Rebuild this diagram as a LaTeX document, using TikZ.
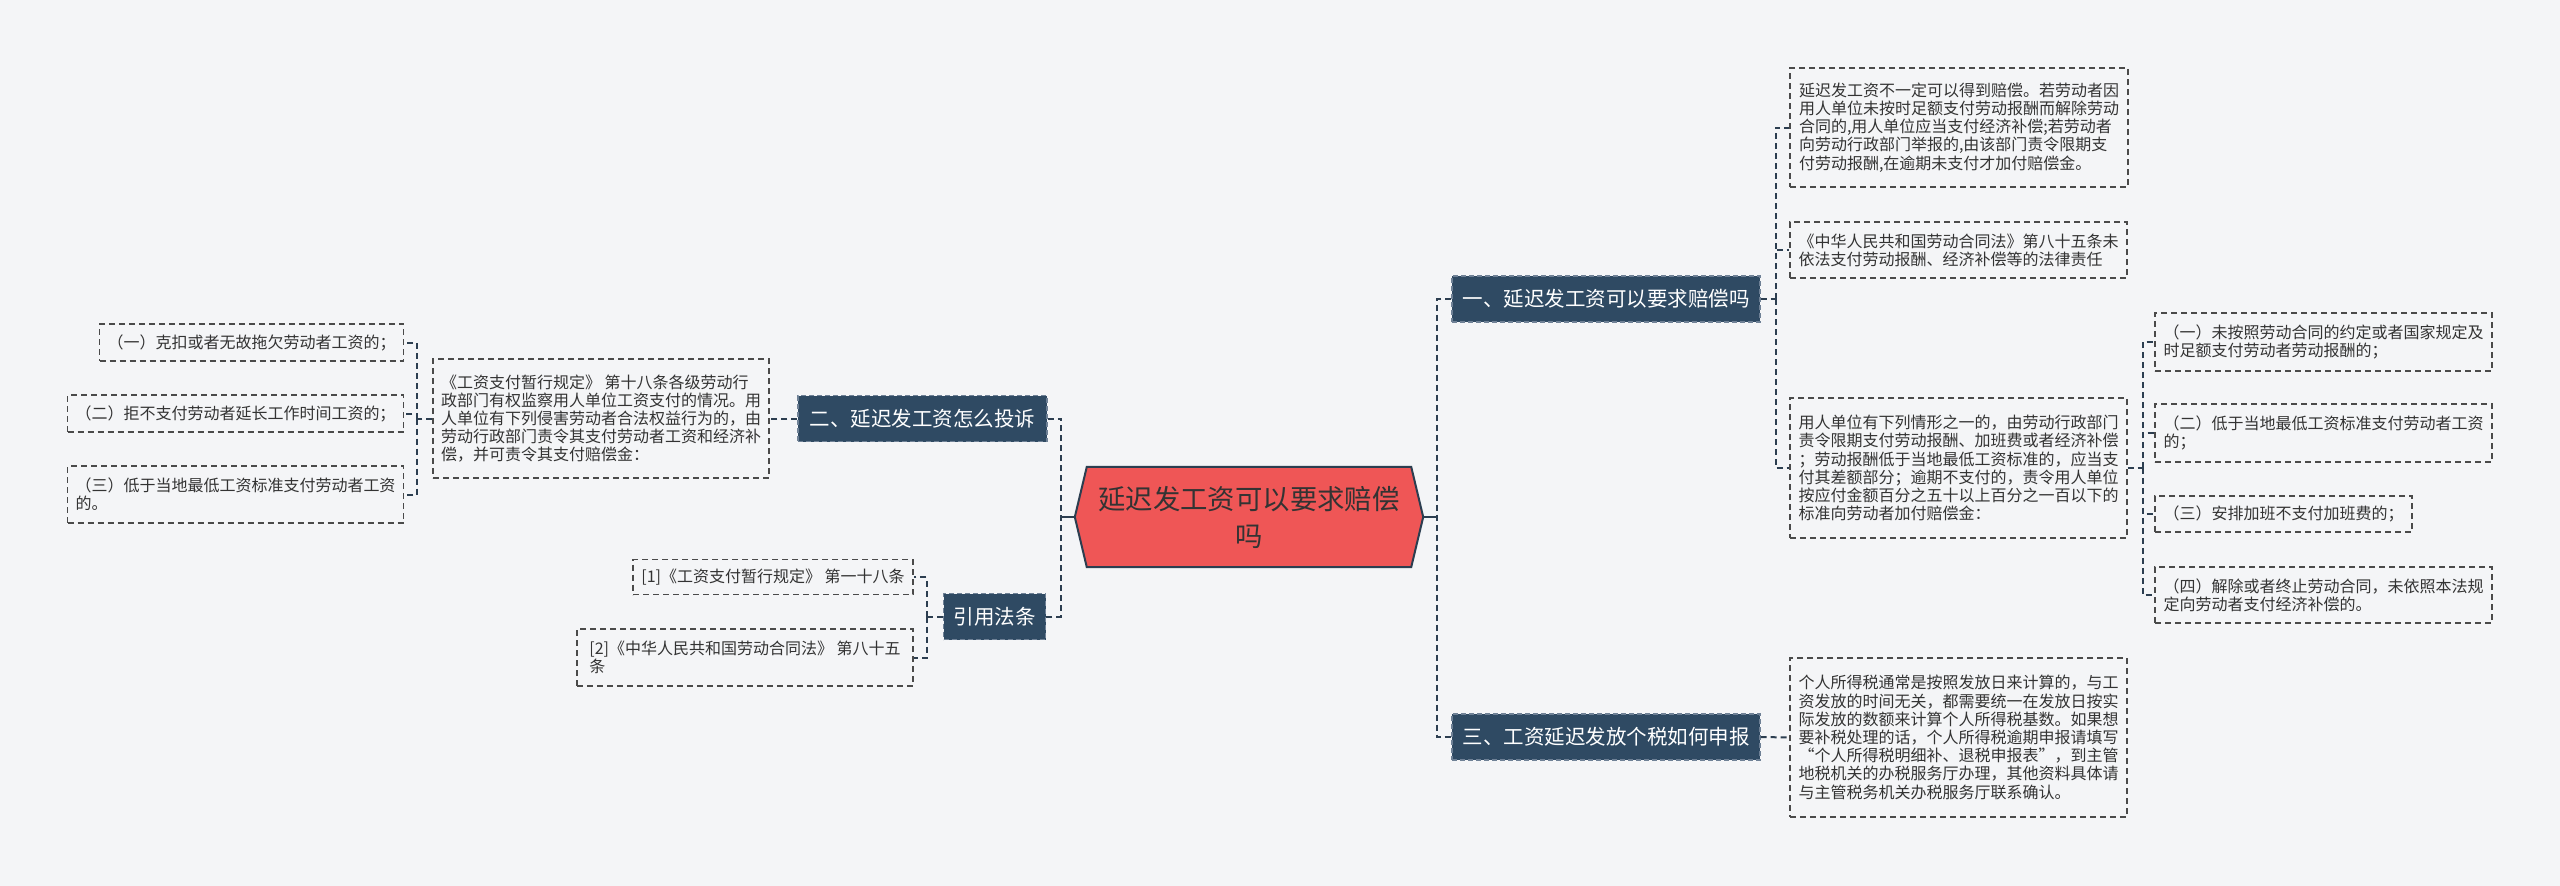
\documentclass[tikz,border=0pt]{standalone}
\usepackage{fontspec}
\setmainfont{Noto Sans CJK SC}
\definecolor{bg}{HTML}{F4F5F7}
\definecolor{navy}{HTML}{2C3E50}
\definecolor{bfill}{HTML}{2F4A63}
\definecolor{bborder}{HTML}{6F8196}
\definecolor{cfill}{HTML}{EF5656}
\definecolor{txt}{HTML}{333333}
\definecolor{lborder}{HTML}{4A4A4A}
\tikzset{
  leaf/.style={draw=lborder, dashed, dash pattern=on 6pt off 4pt, line width=1.4pt, rectangle, align=left,
    text=txt, inner xsep=8pt, inner ysep=4pt, font=\fontsize{16}{18.2}\selectfont},
  branch/.style={draw=bborder, dash pattern=on 5pt off 3pt, line width=1.3pt, fill=bfill, text=white,
    minimum height=46pt, inner xsep=10pt, font=\fontsize{20.5}{24}\selectfont},
  conn/.style={draw=navy, line width=2pt, dash pattern=on 6pt off 4pt},
  solidconn/.style={draw=navy, line width=2pt},
}
\begin{document}
\begin{tikzpicture}[x=1pt,y=-1pt]
\fill[bg] (0,0) rectangle (2560,886);
\useasboundingbox (0,0) rectangle (2560,886);

% central node
\node[minimum width=348pt, minimum height=100pt, inner sep=0pt] (c) at (1249,517) {};
\draw[fill=cfill, draw=navy, line width=2pt] (c.west) -- ([xshift=12pt]c.north west) -- ([xshift=-12pt]c.north east) -- (c.east) -- ([xshift=-12pt]c.south east) -- ([xshift=12pt]c.south west) -- cycle;
\node[align=center, text=txt, font=\fontsize{27.4}{37}\selectfont] (ct) at (c.center) {延迟发工资可以要求赔偿\\吗};

% branches
\node[branch, minimum width=308pt] (b1) at (1606,299) {一、延迟发工资可以要求赔偿吗};
\node[branch, minimum width=308pt] (b3) at (1606,737) {三、工资延迟发放个税如何申报};
\node[branch, minimum width=249pt] (b2) at (922.5,418.5) {二、延迟发工资怎么投诉};
\node[branch, minimum width=101pt] (b4) at (994.5,616.5) {引用法条};

% right leaves
\node[leaf, minimum width=338pt, minimum height=119pt] (l1) at (1959,127.5) {延迟发工资不一定可以得到赔偿。若劳动者因\\用人单位未按时足额支付劳动报酬而解除劳动\\合同的,用人单位应当支付经济补偿;若劳动者\\向劳动行政部门举报的,由该部门责令限期支\\付劳动报酬,在逾期未支付才加付赔偿金。};
\node[leaf, minimum width=337pt, minimum height=56pt] (l2) at (1958.5,250) {《中华人民共和国劳动合同法》第八十五条未\\依法支付劳动报酬、经济补偿等的法律责任};
\node[leaf, minimum width=337pt, minimum height=140pt] (l3) at (1958.5,468) {用人单位有下列情形之一的，由劳动行政部门\\责令限期支付劳动报酬、加班费或者经济补偿\\；劳动报酬低于当地最低工资标准的，应当支\\付其差额部分；逾期不支付的，责令用人单位\\按应付金额百分之五十以上百分之一百以下的\\标准向劳动者加付赔偿金：};
\node[leaf, minimum width=337pt, minimum height=58pt] (s1) at (2323.5,342) {（一）未按照劳动合同的约定或者国家规定及\\时足额支付劳动者劳动报酬的；};
\node[leaf, minimum width=337pt, minimum height=58pt] (s2) at (2323.5,433) {（二）低于当地最低工资标准支付劳动者工资\\的；};
\node[leaf, minimum width=257pt, minimum height=36pt] (s3) at (2283.5,514) {（三）安排加班不支付加班费的；};
\node[leaf, minimum width=337pt, minimum height=56pt] (s4) at (2323.5,595) {（四）解除或者终止劳动合同，未依照本法规\\定向劳动者支付经济补偿的。};
\node[leaf, minimum width=337pt, minimum height=159pt] (lb3) at (1958.5,737.5) {个人所得税通常是按照发放日来计算的，与工\\资发放的时间无关，都需要统一在发放日按实\\际发放的数额来计算个人所得税基数。如果想\\要补税处理的话，个人所得税逾期申报请填写\\“个人所得税明细补、退税申报表”，到主管\\地税机关的办税服务厅办理，其他资料具体请\\与主管税务机关办税服务厅联系确认。};

% left leaves
\node[leaf, minimum width=336pt, minimum height=119pt] (ll) at (601,418.5) {《工资支付暂行规定》 第十八条各级劳动行\\政部门有权监察用人单位工资支付的情况。用\\人单位有下列侵害劳动者合法权益行为的，由\\劳动行政部门责令其支付劳动者工资和经济补\\偿，并可责令其支付赔偿金：};
\node[leaf, minimum width=303pt, minimum height=37pt] (ll1) at (251.5,342.5) {（一）克扣或者无故拖欠劳动者工资的；};
\node[leaf, minimum width=335pt, minimum height=37pt] (ll2) at (235.5,413.5) {（二）拒不支付劳动者延长工作时间工资的；};
\node[leaf, minimum width=335pt, minimum height=57pt] (ll3) at (235.5,494.5) {（三）低于当地最低工资标准支付劳动者工资\\的。};
\node[leaf, minimum width=280pt, minimum height=35pt] (r1) at (773,577) {[1]《工资支付暂行规定》 第一十八条};
\node[leaf, minimum width=336pt, minimum height=57pt] (r2) at (745,657.5) {[2]《中华人民共和国劳动合同法》 第八十五\\条};

% connectors
\coordinate (jr) at (1437,517);
\coordinate (jl) at (1061,517);
\draw[solidconn] (c.east) -- (jr);
\draw[solidconn] (c.west) -- (jl);
\draw[conn] (b1.west) -| (jr) |- (b3.west);
\draw[conn] (b2.east) -| (jl) |- (b4.east);

\coordinate (k1) at ([xshift=15pt]b1.east);
\draw[conn] (b1.east) -- (k1);
\draw[conn] (k1) |- (l1.west);
\draw[conn] (k1) |- (l2.west);
\draw[conn] (k1) |- (l3.west);

\coordinate (k3) at ([xshift=15pt]l3.east);
\draw[conn] (l3.east) -- (k3);
\draw[conn] (k3) |- (s1.west);
\draw[conn] (k3) |- (s2.west);
\draw[conn] (k3) |- (s3.west);
\draw[conn] (k3) |- (s4.west);

\draw[conn] (b3.east) -- (lb3.west);
\draw[conn] (b2.west) -- (ll.east);

\coordinate (k2) at ([xshift=-15pt]ll.west);
\draw[conn] (ll.west) -- (k2);
\draw[conn] (k2) |- (ll1.east);
\draw[conn] (k2) |- (ll2.east);
\draw[conn] (k2) |- (ll3.east);

\coordinate (k4) at ([xshift=-16pt]b4.west);
\draw[conn] (b4.west) -- (k4);
\draw[conn] (k4) |- (r1.east);
\draw[conn] (k4) |- (r2.east);
\end{tikzpicture}
\end{document}
